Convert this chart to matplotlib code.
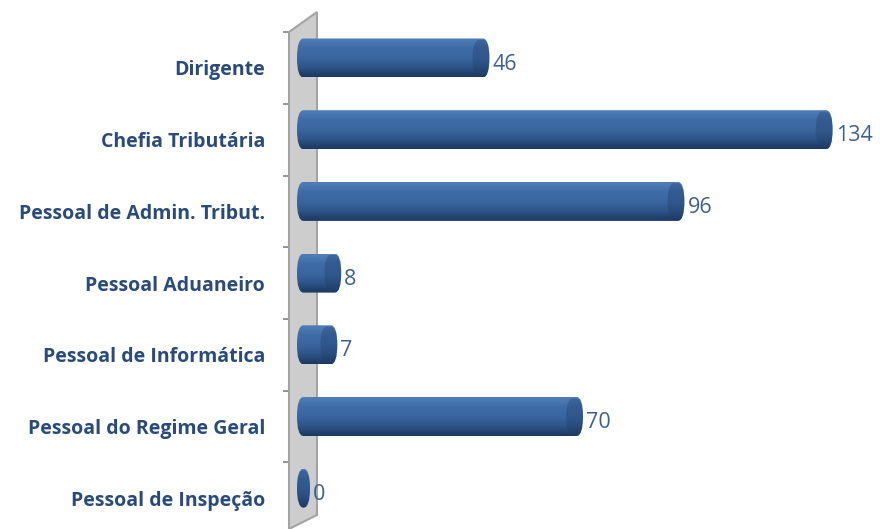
import numpy as np
import matplotlib.pyplot as plt
from matplotlib.patches import FancyBboxPatch, Polygon
from matplotlib.colors import LinearSegmentedColormap

categories = ["Dirigente", "Chefia Tributária", "Pessoal de Admin. Tribut.",
              "Pessoal Aduaneiro", "Pessoal de Informática",
              "Pessoal do Regime Geral", "Pessoal de Inspeção"]
values = [46, 134, 96, 8, 7, 70, 0]

plt.rcParams['font.family'] = ['Open Sans', 'DejaVu Sans']

W, H = 880, 529
fig = plt.figure(figsize=(W / 100, H / 100), dpi=100)
x0_px = 297
ax = fig.add_axes([x0_px / W, 0, 1 - x0_px / W, 1])
px_per_unit = 3.9
ax.set_xlim(0, (W - x0_px) / px_per_unit)
y_step = 71.7
y_first = 68
ax.set_ylim((H - y_first) / y_step, -y_first / y_step)

for s in ax.spines.values():
    s.set_visible(False)
ax.set_xticks([])
ax.set_yticks(range(len(categories)))
ax.set_yticklabels(categories, fontsize=14, fontweight='bold', color='#284a7c')
ax.tick_params(axis='y', length=0, pad=23)
ax.set_yticks(np.arange(len(categories)) - 0.5, minor=True)
ax.tick_params(axis='y', which='minor', length=10, width=1.3, color='#8c8c8c')

# gray back wall
ux = 1 / px_per_unit
uy = 1 / y_step
wall = Polygon([(-8 * ux, (32 - y_first) * uy), (20 * ux, (12 - y_first) * uy),
                (20 * ux, (515 - y_first) * uy), (-8 * ux, (529 - y_first) * uy)],
               closed=True, facecolor='#cdcdcd', edgecolor='#a3a3a3', lw=1.5,
               zorder=3, clip_on=False)
ax.add_patch(wall)

cmap = LinearSegmentedColormap.from_list(
    'cyl', ['#4f7eb9', '#3f6ca7', '#3a66a0', '#2d5489', '#1c3960'])
grad = np.linspace(0, 1, 64).reshape(-1, 1)

bar_h = 39 * uy
shift = -10 * uy
cap = 13 * ux
for i, v in enumerate(values):
    yc = i + shift
    w = v + cap
    box = FancyBboxPatch((0, yc - bar_h / 2), w, bar_h,
                         boxstyle=f"round,pad=0,rounding_size={cap / 2}",
                         mutation_aspect=(bar_h / 2) / (cap / 2),
                         facecolor='none', edgecolor='none', zorder=4)
    ax.add_patch(box)
    img = ax.imshow(grad, cmap=cmap, aspect='auto', zorder=4,
                    extent=(0, w, yc + bar_h / 2, yc - bar_h / 2))
    img.set_clip_path(box)
    # darker end cap
    end = FancyBboxPatch((max(w - cap * 1.3, 0), yc - bar_h / 2 + 0.02), min(cap * 1.3, w),
                         bar_h - 0.04,
                         boxstyle=f"round,pad=0,rounding_size={cap / 2}",
                         mutation_aspect=(bar_h / 2) / (cap / 2),
                         facecolor='#1f3d69', alpha=0.35, edgecolor='none', zorder=5)
    ax.add_patch(end)
    ax.text(w + 3 * ux, i - 4 * uy, str(v), va='center', ha='left',
            fontsize=15.5, color='#3d6094', zorder=6)

fig.savefig('out.png', dpi=100)
